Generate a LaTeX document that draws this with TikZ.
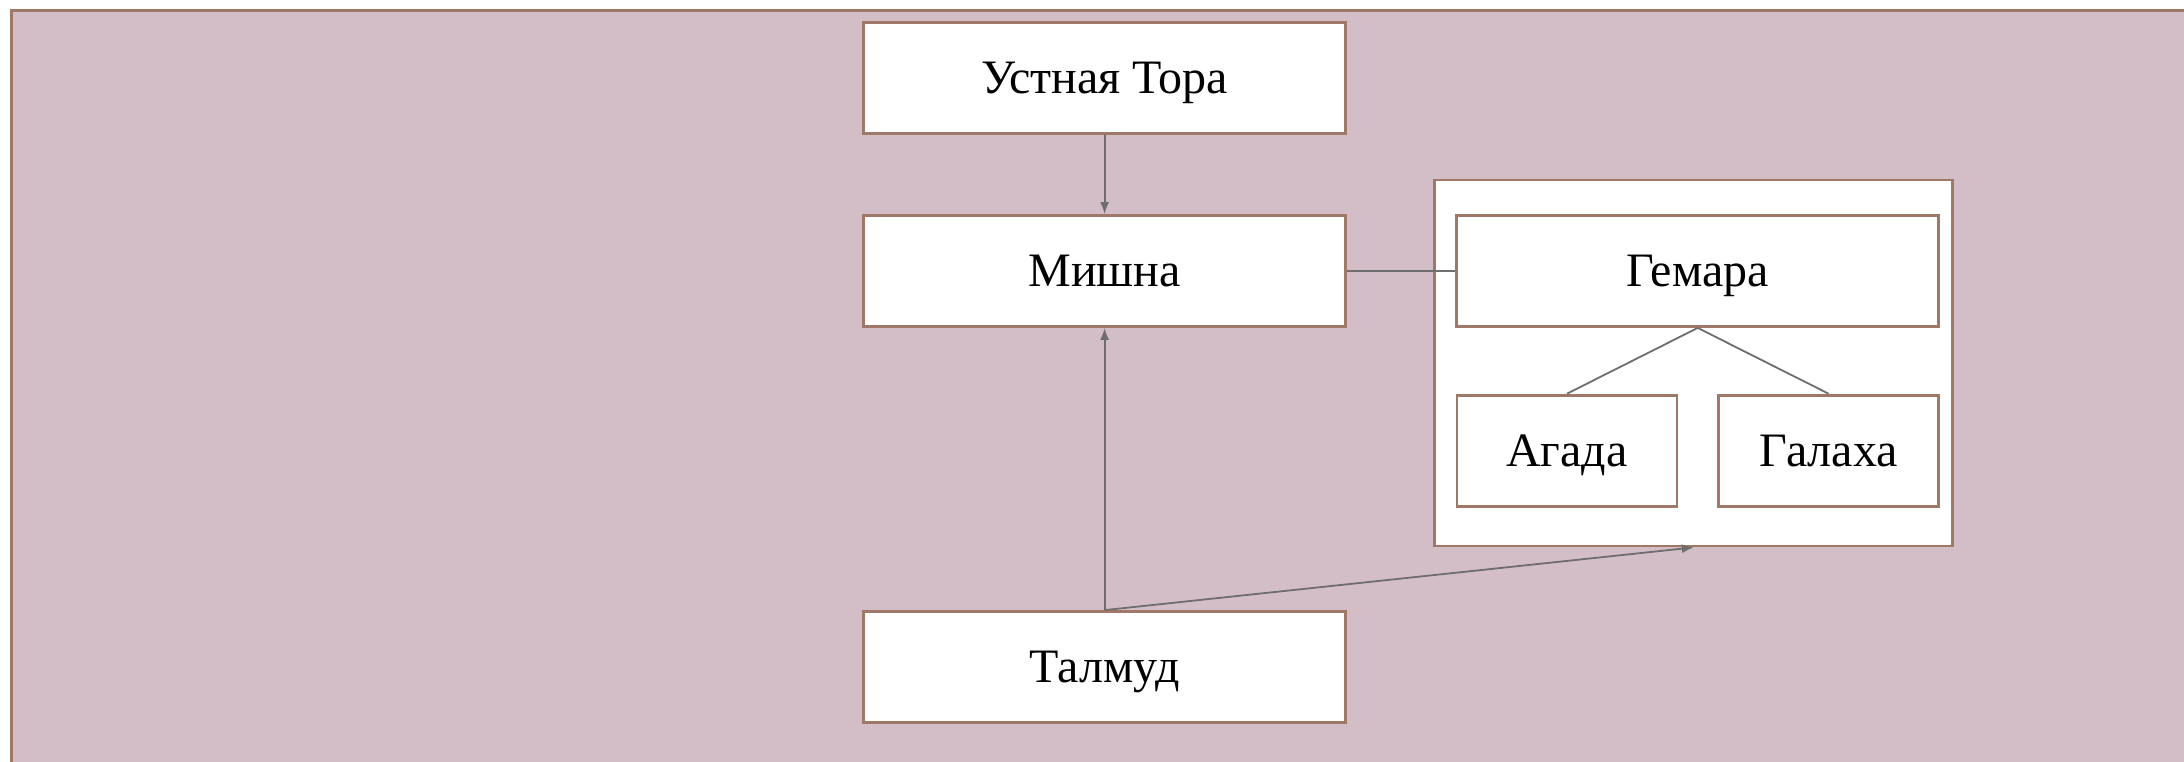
\documentclass[tikz,border=0pt]{standalone}
\usepackage{fontspec}
\setmainfont{Liberation Serif}
\usetikzlibrary{arrows.meta}
\definecolor{bgfill}{HTML}{D3BEC7}
\definecolor{brownline}{HTML}{A07868}
\definecolor{conn}{HTML}{6E6E6E}
\tikzset{
  box/.style={draw=brownline, line width=1.4pt, fill=white, rectangle, inner sep=0pt,
    minimum width=241pt, minimum height=55.5pt, font=\fontsize{24}{28}\selectfont,
    text height=15.8pt, text depth=0pt},
  smallbox/.style={box, minimum width=110pt},
  holder/.style={draw=brownline, line width=1.4pt, fill=white, rectangle, inner sep=0pt,
    minimum width=259pt, minimum height=183pt},
  link/.style={draw=conn, line width=0.9pt},
  arrowlink/.style={link, -{Latex[length=6pt,width=4.5pt]}}
}
\begin{document}
\begin{tikzpicture}[x=0.5pt,y=-0.5pt]
\useasboundingbox (0,0) rectangle (2184,761);
\draw[draw=brownline, fill=bgfill, line width=1.5pt] (11,10) rectangle (2230,800);
\node[holder] (cont) at (1693.8,363) {};
\node[box] (ustna) at (1104.6,78) {Устная Тора};
\node[box] (mishna) at (1104.6,271) {Мишна};
\node[box] (talmud) at (1104.6,667) {Талмуд};
\node[box] (gemara) at (1697.7,271) {Гемара};
\node[smallbox] (agada) at (1567,450.6) {Агада};
\node[smallbox] (galaha) at (1828.6,450.6) {Галаха};
\draw[arrowlink] (ustna.south) -- (mishna.north);
\draw[arrowlink] (talmud.north) -- (mishna.south);
\draw[arrowlink] (talmud.north) -- (cont.south);
\draw[link] (mishna.east) -- (gemara.west);
\draw[link] (gemara.south) -- (agada.north);
\draw[link] (gemara.south) -- (galaha.north);
\end{tikzpicture}
\end{document}
